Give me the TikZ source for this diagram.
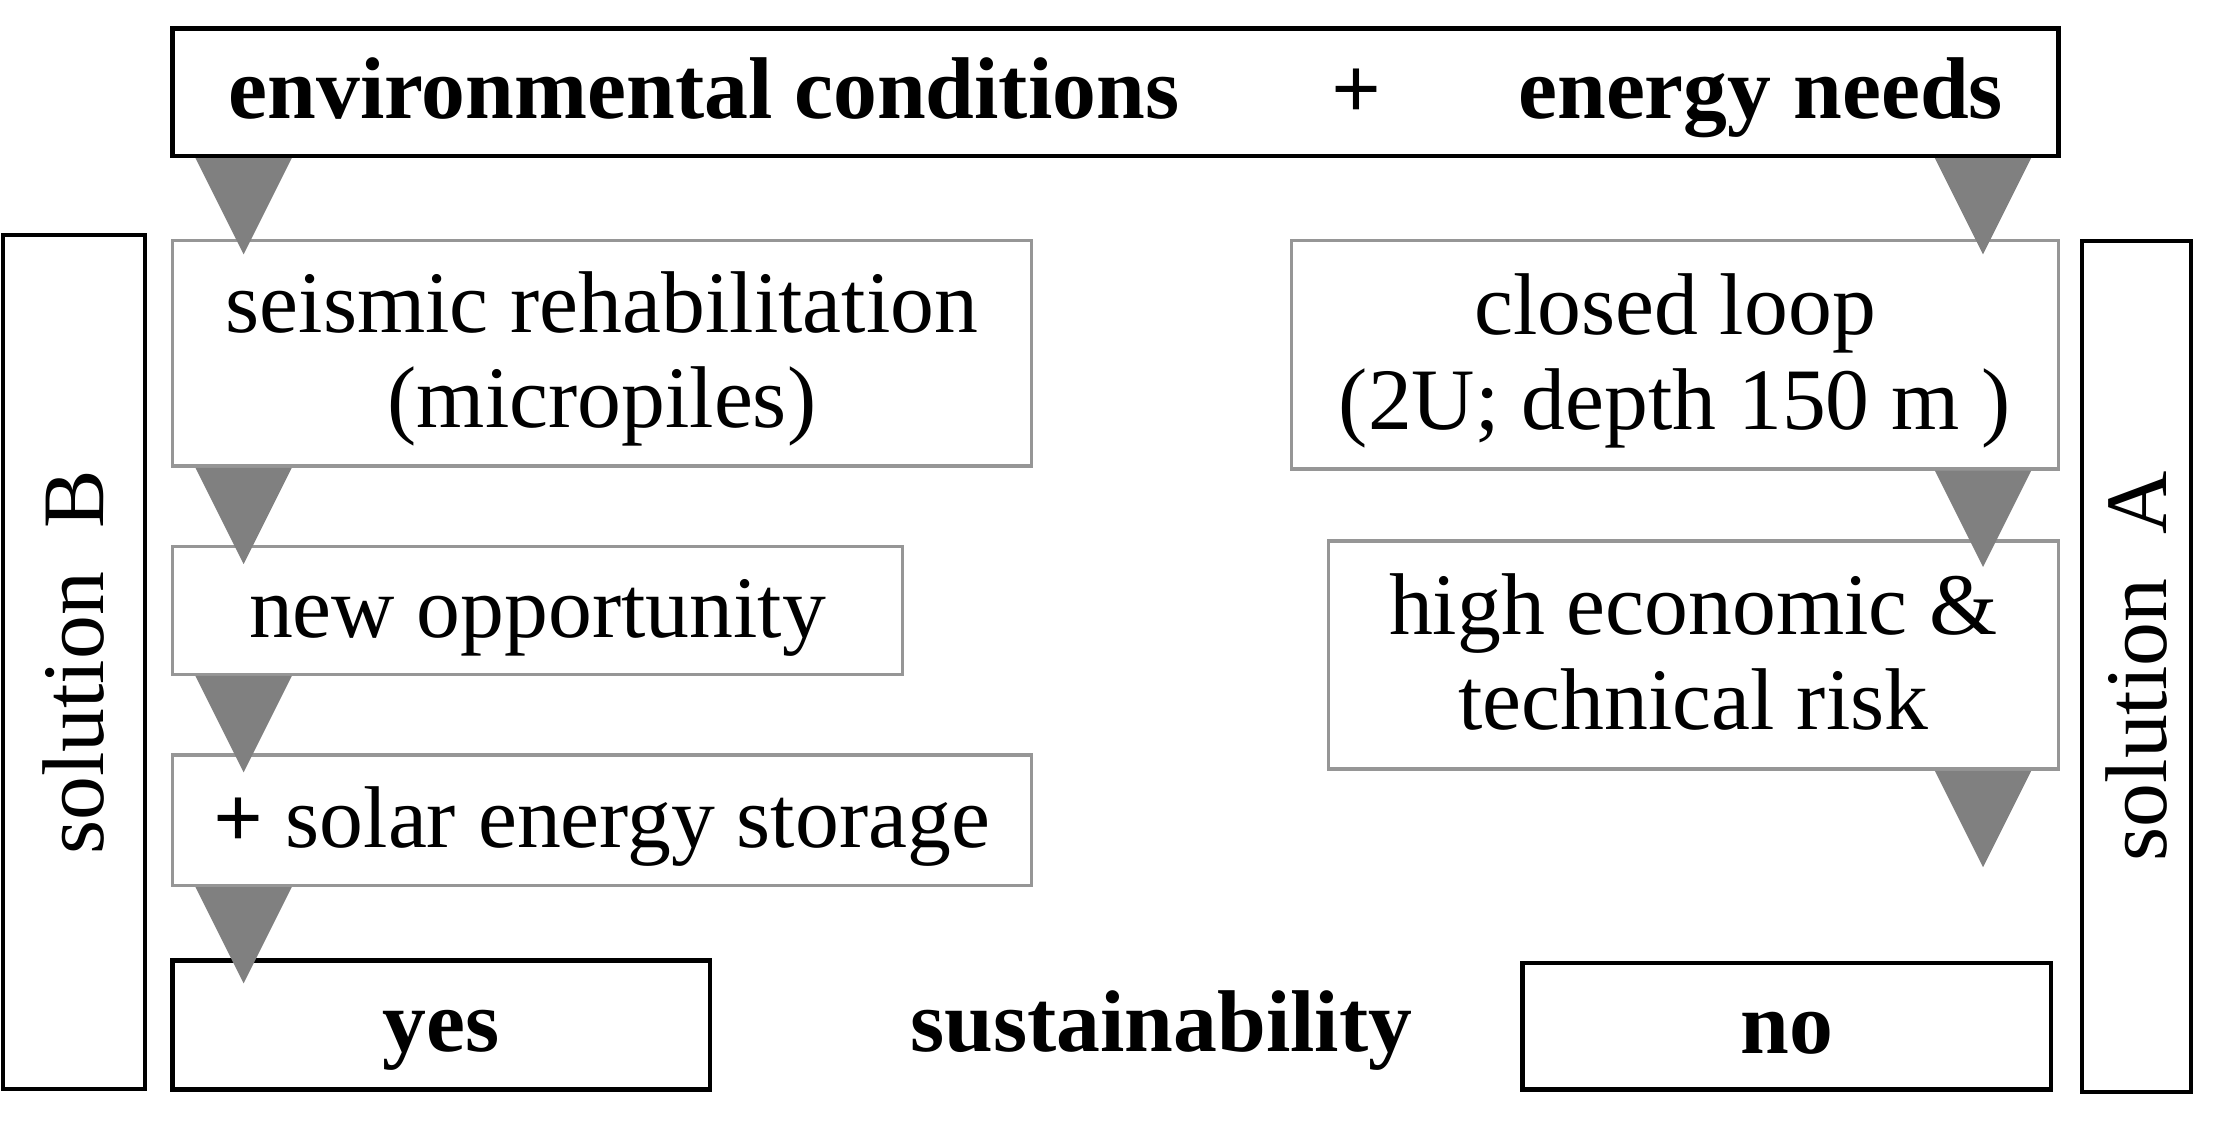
\documentclass[tikz,border=0pt]{standalone}
\usepackage{fontspec}
\setmainfont{Liberation Serif}
\usetikzlibrary{calc}
\definecolor{framegray}{RGB}{150,150,150}
\definecolor{dropgray}{RGB}{128,128,128}
\newcommand\diagfont{\fontsize{17.6}{19}\selectfont}
\newcommand\linetop{\rule{0pt}{15.8pt}}
\newcommand\linebot{\rule[-5pt]{0pt}{5pt}}
\tikzset{
  oneline/.style={text height=15.8pt,text depth=5pt},
  darkbox/.style={draw=black,line width=0.9pt,inner sep=0pt,align=center,font=\diagfont\bfseries},
  lightbox/.style={draw=framegray,line width=0.7pt,inner sep=0pt,align=center,font=\diagfont},
  sidebox/.style={draw=black,line width=0.8pt,inner sep=0pt},
  label/.style={font=\diagfont\bfseries,inner sep=0pt,oneline},
  drop/.style={fill=dropgray}
}
\begin{document}
\begin{tikzpicture}[x=0.01cm,y=-0.01cm]
  \useasboundingbox (0,0) rectangle (1568,792);

  \node[darkbox,minimum width=13.31cm,minimum height=0.9cm] (top) at (787.5,65) {};
  \node[label] (env) at (497,65) {environmental conditions};
  \node[label] (plus) at (958,65) {+};
  \node[label] (needs) at (1243,65) {energy needs};

  \node[sidebox,minimum width=1cm,minimum height=6.03cm] (solB) at (52,467.5) {};
  \node[font=\diagfont,rotate=90] at (solB.center) {solution\ \ B};
  \node[sidebox,minimum width=0.77cm,minimum height=6.01cm] (solA) at (1508.5,470.5) {};
  \node[font=\diagfont,rotate=90] at (solA.center) {solution\ \ A};

  \node[lightbox,minimum width=6.06cm,minimum height=1.59cm] (seis) at (425,249.5)
    {\linetop seismic rehabilitation\\(micropiles)\linebot};
  \node[lightbox,oneline,minimum width=5.15cm,minimum height=0.9cm] (opp) at (379.5,431)
    {new opportunity};
  \node[lightbox,oneline,minimum width=6.06cm,minimum height=0.92cm] (solar) at (425,579)
    {\textbf{+} solar energy storage};
  \node[darkbox,oneline,minimum width=3.79cm,minimum height=0.91cm] (yes) at (311.5,723.5) {yes};

  \node[lightbox,minimum width=5.41cm,minimum height=1.61cm] (loop) at (1182.5,250.5)
    {\linetop closed loop\\ (2U; depth 150 m )\linebot};
  \node[lightbox,minimum width=5.15cm,minimum height=1.61cm] (risk) at (1195.5,462.5)
    {\linetop high economic \&\\technical risk\linebot};
  \node[darkbox,oneline,minimum width=3.73cm,minimum height=0.89cm] (no) at (1261.5,724.5) {no};

  \node[label] (sust) at (820,723.5) {sustainability};

  \foreach \n/\x in {top/172,seis/172,opp/172,solar/172,top/1400,loop/1400,risk/1400}{
    \coordinate (b) at (\n.south -| \x,0);
    \fill[drop] ($(b)+(-34,0)$) -- ($(b)+(34,0)$) -- ($(b)+(0,68)$) -- cycle;
  }
\end{tikzpicture}
\end{document}
